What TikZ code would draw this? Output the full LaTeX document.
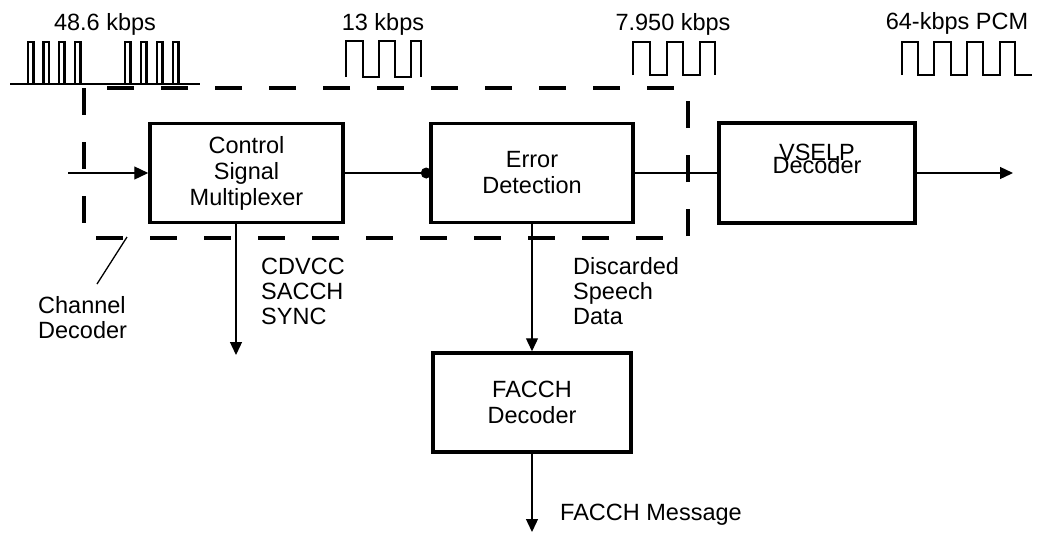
\documentclass[tikz,border=0pt]{standalone}
\usepackage{fontspec}
\setmainfont{Liberation Sans}
\usetikzlibrary{arrows.meta}

\newcommand{\boxfont}{\fontsize{23.5}{26}\selectfont}
\newcommand{\lblfont}{\fontsize{23.5}{25}\selectfont}

\begin{document}
\begin{tikzpicture}[x=1pt,y=-1pt,
	blockbox/.style={draw,line width=3.5pt,minimum height=99pt,inner sep=0pt,align=center,font=\boxfont},
	txt/.style={inner sep=0pt,align=left,font=\lblfont},
	rate/.style={inner sep=0pt,anchor=base,font=\lblfont},
	wave/.style={line width=2.6pt,line join=miter},
	conn/.style={line width=1.3pt},
	arr/.style={conn,-{Triangle[length=13pt,width=12pt]}},
	chdec/.style={line width=3.2pt,dash pattern=on 27pt off 27pt}]
	
	\useasboundingbox (0,0) rectangle (1048,533);
	
	% channel decoder outline
	\draw[chdec] (84,88) rectangle (688,238);
	
	% blocks
	\node[blockbox,minimum width=193pt] (csm) at (246.5,173) {Control\\Signal\\Multiplexer};
	\node[blockbox,minimum width=202pt] (err) at (532,173) {Error\\Detection};
	\node[blockbox,minimum width=196pt,minimum height=100pt] (vselp) at (817,173) {};
	\node[rate] (vselpa) at (817,160) {VSELP};
	\node[rate] (vselpb) at (817,173) {Decoder};
	\node[blockbox,minimum width=198pt] (facch) at (532,402.5) {FACCH\\Decoder};
	
	% connectors
	\coordinate (in) at (68,173);
	\coordinate (out) at (1013,173);
	\coordinate (sig) at (236,355);
	\coordinate (msg) at (532,532);
	\draw[conn,-{Triangle[length=14pt,width=13pt]}] (in) -- (csm);
	\draw[conn] (csm) -- (err);
	\fill ([xshift=-3pt]err.west) circle (5.5pt);
	\draw[conn] (err) -- (vselp);
	\draw[arr] (vselp) -- (out);
	\draw[arr] (sig |- csm.south) -- (sig);
	\draw[arr] (err) -- (facch);
	\draw[arr] (facch) -- (msg);
	
	% labels
	\node[rate] (r1) at (105,30) {48.6 kbps};
	\node[rate] (r2) at (383,30) {13 kbps};
	\node[rate] (r3) at (673,30) {7.950 kbps};
	\node[rate] (r4) at (957,29) {64-kbps PCM};
	
	\node[txt,anchor=north west] (chlbl) at (38,296) {Channel\\Decoder};
	\coordinate (leadend) at (97,284);
	\coordinate (lead) at (127,237);
	\draw[conn] (leadend) -- (lead);
	
	\node[txt,anchor=north west] (ctl) at (261,258) {CDVCC\\SACCH\\SYNC};
	\node[txt,anchor=north west] (disc) at (573,257) {Discarded\\Speech\\Data};
	\node[rate,anchor=base west] (fmsg) at (560,520) {FACCH Message};
	
	% 48.6 kbps burst
	\draw[wave] (10,84) -- (200,84);
	\foreach \x in {28,43.5,59,75,125,141,157,173}
		\draw[wave] (\x,84) |- (\x+5.5,42) -- (\x+5.5,84);
	
	% 13 kbps
	\draw[wave] (346,77) -- (346,41) -- (363,41) -- (363,77) -- (379,77) -- (379,41) -- (395,41) -- (395,77) -- (411,77) -- (411,41) -- (421,41) -- (421,77);
	
	% 7.950 kbps
	\draw[wave] (633,75) -- (633,42) -- (650,42) -- (650,75) -- (667,75) -- (667,42) -- (683,42) -- (683,75) -- (700,75) -- (700,42) -- (715,42) -- (715,75);
	
	% 64 kbps PCM
	\draw[wave] (902,75) -- (902,42) -- (918,42) -- (918,75) -- (934,75) -- (934,42) -- (951,42) -- (951,75) -- (967,75) -- (967,42) -- (983,42) -- (983,75) -- (1000,75) -- (1000,42) -- (1015,42) -- (1015,75) -- (1032,75);
	
\end{tikzpicture}
\end{document}
